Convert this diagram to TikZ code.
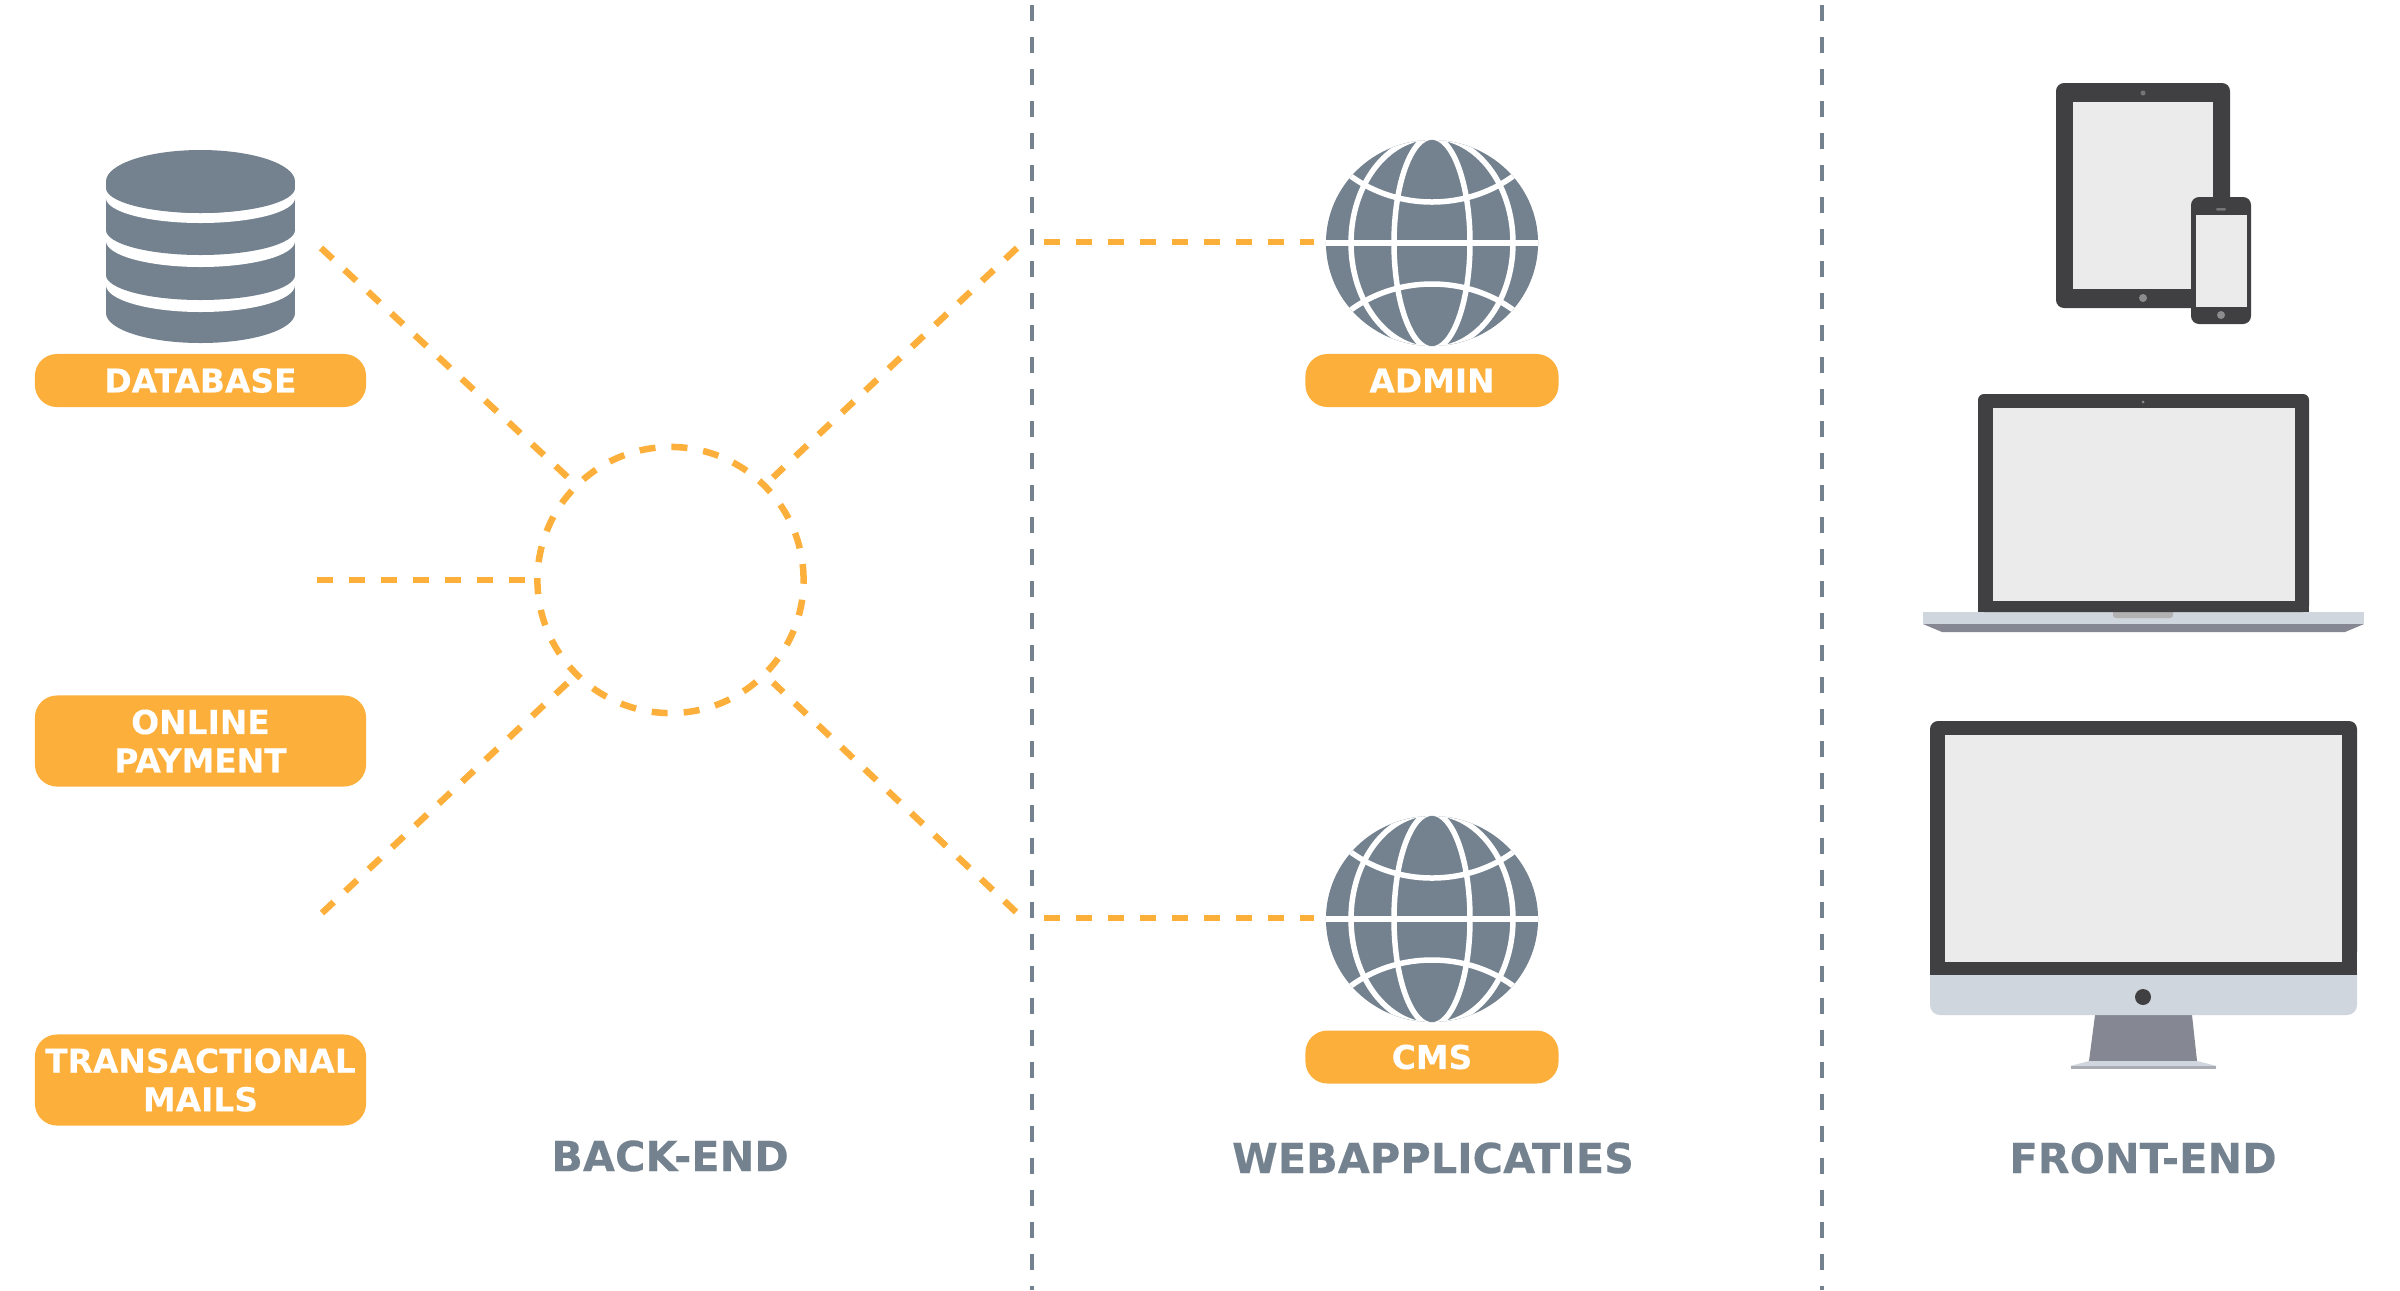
\documentclass[tikz,border=0pt]{standalone}
\usepackage{fontspec}
\setmainfont{DejaVu Sans}[BoldFeatures={FakeBold=0.25}]
\usetikzlibrary{positioning, shapes.geometric}
\definecolor{csslate}{HTML}{74828F}
\definecolor{csorange}{HTML}{FCB03B}
\definecolor{csdark}{HTML}{404042}
\definecolor{csscreen}{HTML}{EBEBEB}
\definecolor{cssilver}{HTML}{D0D6DE}
\definecolor{cssteel}{HTML}{858892}
\definecolor{csknob}{HTML}{8C8C8E}

\begin{document}
\begin{tikzpicture}[
        x=0.01cm, y=-0.01cm,
        pill/.style={fill=csorange, rounded corners=0.22cm, minimum width=3.31cm, minimum height=0.53cm,
                     inner sep=0pt, text=white, align=center,
                     font=\fontsize{9.35}{10.95}\selectfont\bfseries},
        tallpill/.style={pill, minimum height=0.91cm},
        webpill/.style={pill, minimum width=2.53cm},
        head/.style={text=csslate, inner sep=0pt, font=\fontsize{11.8}{13}\selectfont\bfseries},
        globe/.style={ellipse, fill=csslate, minimum width=2.12cm, minimum height=2.06cm,
                      inner sep=0pt, outer sep=0.12cm},
        hubring/.style={circle, draw=csorange, line width=0.065cm, minimum size=2.66cm, inner sep=0pt,
                        outer sep=0.12cm, dash pattern=on 0.16cm off 0.16cm},
        link/.style={draw=csorange, line width=0.065cm, dash pattern=on 0.16cm off 0.16cm},
        divider/.style={draw=csslate, line width=0.04cm, dash pattern=on 0.16cm off 0.16cm},
        gridline/.style={draw=white, line width=0.055cm},
        softcorner/.style={rounded corners=0.08cm}
    ]
    \useasboundingbox (0,0) rectangle (2400,1290);
    \fill[white] (0,0) rectangle (2400,1290);

    % Column dividers
    \coordinate (backtop) at (1032,5);
    \coordinate (backbot) at (1032,1290);
    \coordinate (fronttop) at (1822,5);
    \coordinate (frontbot) at (1822,1290);
    \draw[divider] (backtop) -- (backbot);
    \draw[divider] (fronttop) -- (frontbot);

    % Database icon
    \foreach \bt/\bc/\br/\wr in {285/313/30/27, 241/275/25/26, 198/230/25/25} {
        \fill[csslate] (106,\bt) rectangle (295,\bc);
        \fill[csslate] (200.5,\bc) ellipse [x radius=94.5, y radius=\br];
        \fill[white] (200.5,\bt) ellipse [x radius=94.5, y radius=\wr];
    }
    \fill[csslate] (106,181.5) rectangle (295,188);
    \fill[csslate] (200.5,188) ellipse [x radius=94.5, y radius=25];
    \fill[csslate] (200.5,181.5) ellipse [x radius=94.5, y radius=31.5];

    % Left column labels
    \node[pill] (database) at (200.5,380.5) {DATABASE};
    \node[tallpill] (payment) at (200.5,741) {ONLINE\\PAYMENT};
    \node[tallpill] (mails) at (200.5,1080) {TRANSACTIONAL\\MAILS};

    % Hub and its spokes
    \node[hubring] (hub) at (670.5,580) {};
    \coordinate (dbend) at (321,248);
    \coordinate (payend) at (317,580);
    \coordinate (mailend) at (322,913);
    \coordinate (adminend) at (1017,248);
    \coordinate (cmsend) at (1016,912);
    \foreach \e/\a in {dbend/135, payend/180, mailend/225, adminend/45, cmsend/-45}
        \draw[link] (\e) -- (hub.\a);

    % Globes
    \foreach \n/\gy in {adminglobe/243, cmsglobe/919} {
        \node[globe] (\n) at (1432,\gy) {};
        \begin{scope}[shift={(1432,\gy)}]
            \clip (0,0) ellipse [x radius=106, y radius=103];
            \draw[gridline] (-106,0) -- (106,0);
            \draw[gridline] (0,0) ellipse [x radius=38, y radius=106];
            \draw[gridline] (0,0) ellipse [x radius=81, y radius=106];
            \draw[gridline] (-90,-74) .. controls (-40,-30) and (40,-30) .. (90,-74);
            \draw[gridline] (-90,74) .. controls (-40,30) and (40,30) .. (90,74);
        \end{scope}
    }
    \coordinate (adminstart) at (1044,242);
    \coordinate (cmsstart) at (1044,918);
    \draw[link] (adminstart) -- (adminglobe.west |- adminstart);
    \draw[link] (cmsstart) -- (cmsglobe.west |- cmsstart);

    % Web application labels
    \node[webpill] (admin) at (1432,380.5) {ADMIN};
    \node[webpill] (cms) at (1432,1057) {CMS};

    % Tablet
    \fill[csdark, softcorner] (2056,83) rectangle (2230,308);
    \fill[csscreen] (2073,102) rectangle (2213,289);
    \fill[csknob!70!csdark] (2143,93) circle (2.5);
    \fill[csknob] (2143,298) circle (4);

    % Phone
    \fill[csdark, softcorner] (2191,197) rectangle (2251,324);
    \fill[csscreen] (2196,215) rectangle (2247,307);
    \fill[csknob!70!csdark, rounded corners=0.012cm] (2216,208) rectangle (2226,210.5);
    \fill[csknob] (2221,315) circle (4);

    % Laptop
    \fill[cssteel] (1923,624) -- (2364,624) -- (2345,632) -- (1942,632) -- cycle;
    \fill[cssilver] (1923,612) rectangle (2364,624);
    \fill[black!30, rounded corners=0.03cm] (2113,604) rectangle (2173,618);
    \fill[csdark, rounded corners=0.06cm] (1978,394) rectangle (2309,612);
    \fill[csdark] (1978,600) rectangle (2309,612);
    \fill[csscreen] (1993,408) rectangle (2295,601);
    \fill[csknob] (2143,402) circle (1.5);

    % Desktop
    \fill[cssteel] (2095,1015) -- (2192,1015) -- (2197,1061) -- (2089,1061) -- cycle;
    \fill[cssilver] (2089,1061) -- (2197,1061) -- (2217,1066) -- (2070,1066) -- cycle;
    \fill[cssteel!70!white] (2071,1066) rectangle (2216,1068.5);
    \fill[cssilver, rounded corners=0.1cm] (1930,950) rectangle (2357,1015);
    \fill[csdark, softcorner] (1930,721) rectangle (2357,960);
    \fill[csdark] (1930,940) rectangle (2357,975);
    \fill[csscreen] (1945,735) rectangle (2342,962);
    \fill[csdark] (2143,997) circle (8);

    % Column headings
    \node[head] (backend) at (670,1156) {BACK-END};
    \node[head] (webapps) at (1433,1158) {WEBAPPLICATIES};
    \node[head] (frontend) at (2143,1158) {FRONT-END};
\end{tikzpicture}
\end{document}
